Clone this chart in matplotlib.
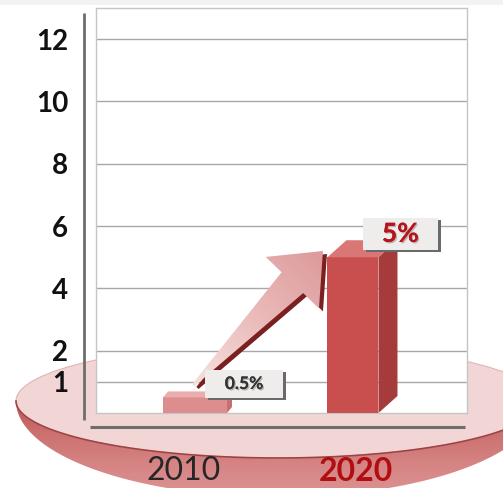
import matplotlib
matplotlib.use('Agg')
import matplotlib.pyplot as plt
import numpy as np
from matplotlib.patches import Polygon, Ellipse, Rectangle
from matplotlib.transforms import IdentityTransform, blended_transform_factory
from matplotlib.colors import LinearSegmentedColormap
import matplotlib.patheffects as pe

plt.rcParams['font.family'] = ['Lato', 'DejaVu Sans']

anos = ['2010', '2020']
valores = [0.5, 5]
rotulos = ['0.5%', '5%']
marcas_y = [1, 2, 4, 6, 8, 10, 12]

W, H = 503, 488
fig = plt.figure(figsize=(W / 100, H / 100), dpi=100)
fig.patch.set_facecolor('white')

# base eliptica desenhada em pixels, atras do grafico
fundo = fig.add_axes([0, 0, 1, 1], zorder=0)
fundo.set_xlim(0, W)
fundo.set_ylim(H, 0)
fundo.axis('off')
fundo.add_patch(Rectangle((0, 0), W, 5, facecolor='#f2f2f2', edgecolor='none'))

cx, cy, a, b, b_borda = 278, 401, 262, 57, 96
t = np.linspace(0, np.pi, 300)
meia = np.column_stack([cx + a * np.cos(t), cy + b_borda * np.sin(t)])
borda = Polygon(meia, closed=True, facecolor='none', edgecolor='none')
fundo.add_patch(borda)
cmap_borda = LinearSegmentedColormap.from_list('borda', ['#bb5454', '#cc7070', '#d68484', '#dc9494'])
grad = np.linspace(0, 1, 200)[:, None] * np.ones((1, 10))
img = fundo.imshow(grad, cmap=cmap_borda, extent=(cx - a, cx + a, cy + b_borda, cy),
                   aspect='auto', origin='upper', zorder=1)
img.set_clip_path(borda)

tampo = Ellipse((cx, cy), 2 * a, 2 * b, facecolor='#f2d5d5', edgecolor='#e2b4b4', lw=0.8, zorder=2)
fundo.add_patch(tampo)
fundo.plot(cx + a * np.cos(t), cy + b * np.sin(t), color='#9e4343', lw=1.2, zorder=3)
fundo.set_xlim(0, W)
fundo.set_ylim(H, 0)

# grafico principal
ax = fig.add_axes([96 / W, 1 - 413 / H, 371 / W, 405 / H], zorder=1)
x = np.arange(len(anos))
ax.set_xlim(-0.627, 1.722)
ax.set_ylim(0, 13)
ax.set_facecolor('white')
ax.set_yticks(marcas_y)
ax.set_yticklabels([str(v) for v in marcas_y], fontweight='bold', fontsize=20, color='#111111')
ax.tick_params(axis='y', length=0, pad=20)
ax.set_xticks([])
ax.grid(axis='y', color='#a8a8a8', lw=1)
ax.set_axisbelow(True)
for s in ax.spines.values():
    s.set_color('#c6c6c6')
    s.set_linewidth(1)

# eixos em cinza escuro fora da area
ax.plot([-0.032, -0.032], [-0.017, 0.988], transform=ax.transAxes, clip_on=False,
        color='#6e6e6e', lw=2, solid_capstyle='butt')
ax.plot([-0.016, 0.995], [-0.035, -0.035], transform=ax.transAxes, clip_on=False,
        color='#6e6e6e', lw=2.2, solid_capstyle='butt')

# escala de pixels para dados
p0 = ax.transData.transform((0, 0))
px_x = ax.transData.transform((1, 0))[0] - p0[0]
px_y = ax.transData.transform((0, 1))[1] - p0[1]

# barras em 3d simples
larguras = [0.405, 0.323]
profund = [(5, 6), (19, 17)]
cor_frente = ['#dd8d8d', '#c94f4f']
cor_topo = ['#eaadad', '#d97676']
cor_lado = ['#c87070', '#a53b3b']
for i in range(len(anos)):
    w = larguras[i]
    v = valores[i]
    dx = profund[i][0] / px_x
    dy = profund[i][1] / px_y
    ax.bar(x[i], v, width=w, color=cor_frente[i], zorder=3)
    e, d = x[i] - w / 2, x[i] + w / 2
    ax.add_patch(Polygon([(e, v), (d, v), (d + dx, v + dy), (e + dx, v + dy)],
                         closed=True, facecolor=cor_topo[i], edgecolor='none', zorder=3))
    ax.add_patch(Polygon([(d, 0), (d + dx, dy), (d + dx, v + dy), (d, v)],
                         closed=True, facecolor=cor_lado[i], edgecolor='none', zorder=3))

# seta de crescimento entre as barras
ini = ax.transData.transform((x[0] - 0.01, valores[0] + 0.4))
fim = ax.transData.transform((x[1] - 0.19, valores[1] + 0.2))
L = np.hypot(*(fim - ini))
u = (fim - ini) / L
n = np.array([-u[1], u[0]])
base = fim - u * 44
pts = np.array([ini + n * 1.5, base + n * 15, base + n * 37, fim,
                base - n * 37, base - n * 15, ini - n * 1.5])
sombra = pts + np.array([4, -3])
inv = ax.transData.inverted()
ax.add_patch(Polygon(inv.transform(sombra), closed=True, facecolor='#7a2020',
                     edgecolor='none', zorder=4))
seta = Polygon(inv.transform(pts), closed=True, facecolor='none', edgecolor='none', zorder=5)
ax.add_patch(seta)
xs = np.linspace(-0.627, 1.722, 300)
ys = np.linspace(0, 13, 300)
XX, YY = np.meshgrid(xs, ys)
DX = p0[0] + XX * px_x
DY = p0[1] + YY * px_y
proj = ((DX - ini[0]) * u[0] + (DY - ini[1]) * u[1]) / L
cmap_seta = LinearSegmentedColormap.from_list('seta', ['#f7e0e0', '#ebbaba', '#dd9a9a'])
img2 = ax.imshow(np.clip(proj, 0, 1), cmap=cmap_seta, extent=(-0.627, 1.722, 0, 13),
                 origin='lower', aspect='auto', zorder=5, vmin=0, vmax=1)
img2.set_clip_path(seta)

# caixas com os valores
desloc_caixa = [(0.31, 0.43), (0.30, 0.75)]
tam_caixa = [(78, 28), (75, 32)]
cor_texto = ['#333333', '#b5141b']
tam_texto = [12.5, 19]
for i in range(len(anos)):
    c = ax.transData.transform((x[i] + desloc_caixa[i][0], valores[i] + desloc_caixa[i][1]))
    bw, bh = tam_caixa[i]
    ax.add_artist(Rectangle((c[0] - bw / 2 + 3, c[1] - bh / 2 - 2), bw, bh,
                            transform=IdentityTransform(), facecolor='#6a6a6a',
                            edgecolor='none', zorder=6, clip_on=False))
    ax.add_artist(Rectangle((c[0] - bw / 2, c[1] - bh / 2), bw, bh,
                            transform=IdentityTransform(), facecolor='#efecec',
                            edgecolor='none', zorder=7, clip_on=False))
    ax.text(x[i] + desloc_caixa[i][0], valores[i] + desloc_caixa[i][1], rotulos[i],
            ha='center', va='center', fontsize=tam_texto[i], fontweight='bold',
            color=cor_texto[i], zorder=10,
            path_effects=[pe.withSimplePatchShadow(offset=(1, -1), alpha=0.25), pe.Normal()])

# anos sobre a borda da base
trans = blended_transform_factory(ax.transData, ax.transAxes)
desloc_ano = [-0.07, 0.02]
cor_ano = ['#262626', '#b10e12']
peso_ano = ['normal', 'bold']
for i in range(len(anos)):
    ax.text(x[i] + desloc_ano[i], -0.18, anos[i], transform=trans, ha='center',
            va='bottom', fontsize=23, color=cor_ano[i], fontweight=peso_ano[i],
            clip_on=False, zorder=10)

ax.set_xlim(-0.627, 1.722)
ax.set_ylim(0, 13)
fig.savefig('out.png', dpi=100)
